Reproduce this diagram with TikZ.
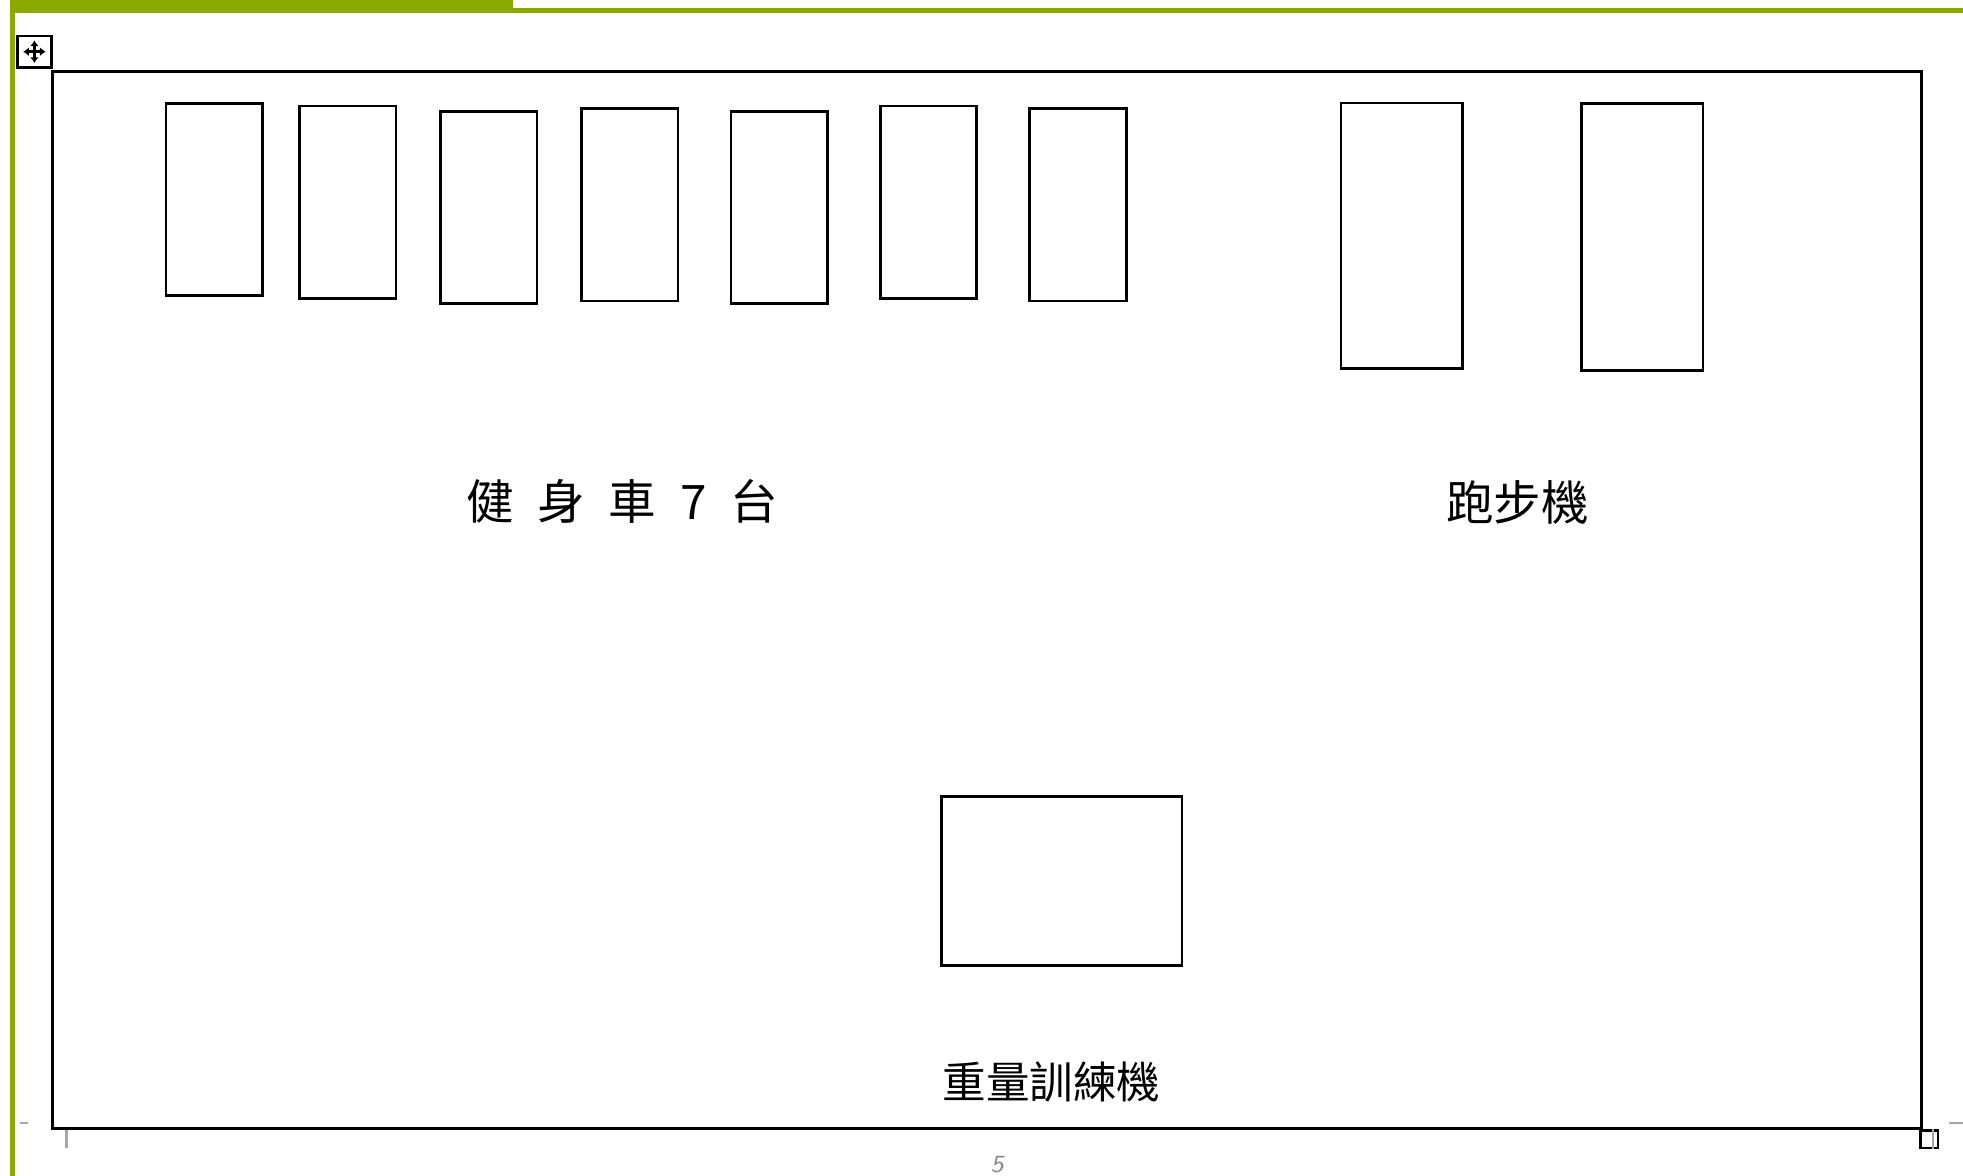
\documentclass[tikz,border=0pt]{standalone}
\usepackage{fontspec}
\newfontfamily\cjk{Noto Sans CJK TC}
\usetikzlibrary{arrows.meta}
\definecolor{slidegreen}{RGB}{138,170,0}

\begin{document}
\begin{tikzpicture}[x=0.01cm,y=-0.01cm]

\tikzstyle{machine} = [rectangle,draw=black,line width=0.6pt,inner sep=0,fill=white]%
\tikzstyle{bike} = [machine,minimum width=0.77cm,minimum height=1.535cm]%
\tikzstyle{tread} = [machine,minimum width=0.97cm,minimum height=2.12cm]%
\tikzstyle{weightbox} = [machine,minimum width=1.92cm,minimum height=1.35cm]%
\tikzstyle{roomtext} = [inner sep=0,font=\cjk\fontsize{10.8}{13}\selectfont]%
\tikzstyle{spaced} = [roomtext,execute at begin node={\spaceskip=0.5em\relax}]%
\tikzstyle{pagemark} = [draw=black!35,line width=0.6pt]%

\useasboundingbox (0,0) rectangle (1568,939);

\fill[slidegreen] (8,0) rectangle (410,10.7);
\fill[slidegreen] (410,6.4) rectangle (1568,10.7);
\fill[slidegreen] (8,0) rectangle (12,939);

\node[machine,fill=none,minimum width=14.92cm,minimum height=8.44cm] (room) at (788.4,479.1) {};

\node[machine,minimum width=0.27cm,minimum height=0.25cm] (handle) at (27.5,41.3) {};
\draw[{Latex[length=1.3pt,width=2pt]}-{Latex[length=1.3pt,width=2pt]},line width=0.6pt]
    ([xshift=-0.09cm]handle.center) -- ([xshift=0.09cm]handle.center);
\draw[{Latex[length=1.3pt,width=2pt]}-{Latex[length=1.3pt,width=2pt]},line width=0.6pt]
    ([yshift=-0.09cm]handle.center) -- ([yshift=0.09cm]handle.center);

\node[bike] (bike1) at (171,159.3) {};
\node[bike] (bike2) at (277.7,161.6) {};
\node[bike] (bike3) at (390.5,165.6) {};
\node[bike] (bike4) at (503.1,163.6) {};
\node[bike] (bike5) at (622.3,165.7) {};
\node[bike] (bike6) at (741.7,161.4) {};
\node[bike] (bike7) at (861.1,163.6) {};

\node[tread] (tread1) at (1119.8,188.3) {};
\node[tread,minimum height=2.135cm] (tread2) at (1311.7,189.3) {};

\node[weightbox] (weight) at (848.1,703.9) {};

\node[spaced] (biketext) at (497,400.5) {健 身 車 7 台};
\node[roomtext] (treadtext) at (1212,401.5) {跑步機};
\node[roomtext,font=\cjk\fontsize{9.9}{12}\selectfont] (weighttext) at (840,864.5) {重量訓練機};

%\node marks of the page
\draw[pagemark] (16,897) -- (22.5,897);
\draw[pagemark] (1557,897) -- (1568,897);
\draw[pagemark] (53.3,903) -- (53.3,917);
\node[machine,fill=none,minimum width=0.14cm,minimum height=0.14cm] (corner) at (1541,910) {};
\draw[pagemark] ([xshift=0.03cm]corner.north) -- ([xshift=0.03cm]corner.south);
\node[inner sep=0,font=\sffamily\itshape\fontsize{5.6}{6}\selectfont,text=black!45] (pagenum) at (796.5,930) {5};

\end{tikzpicture}
\end{document}
